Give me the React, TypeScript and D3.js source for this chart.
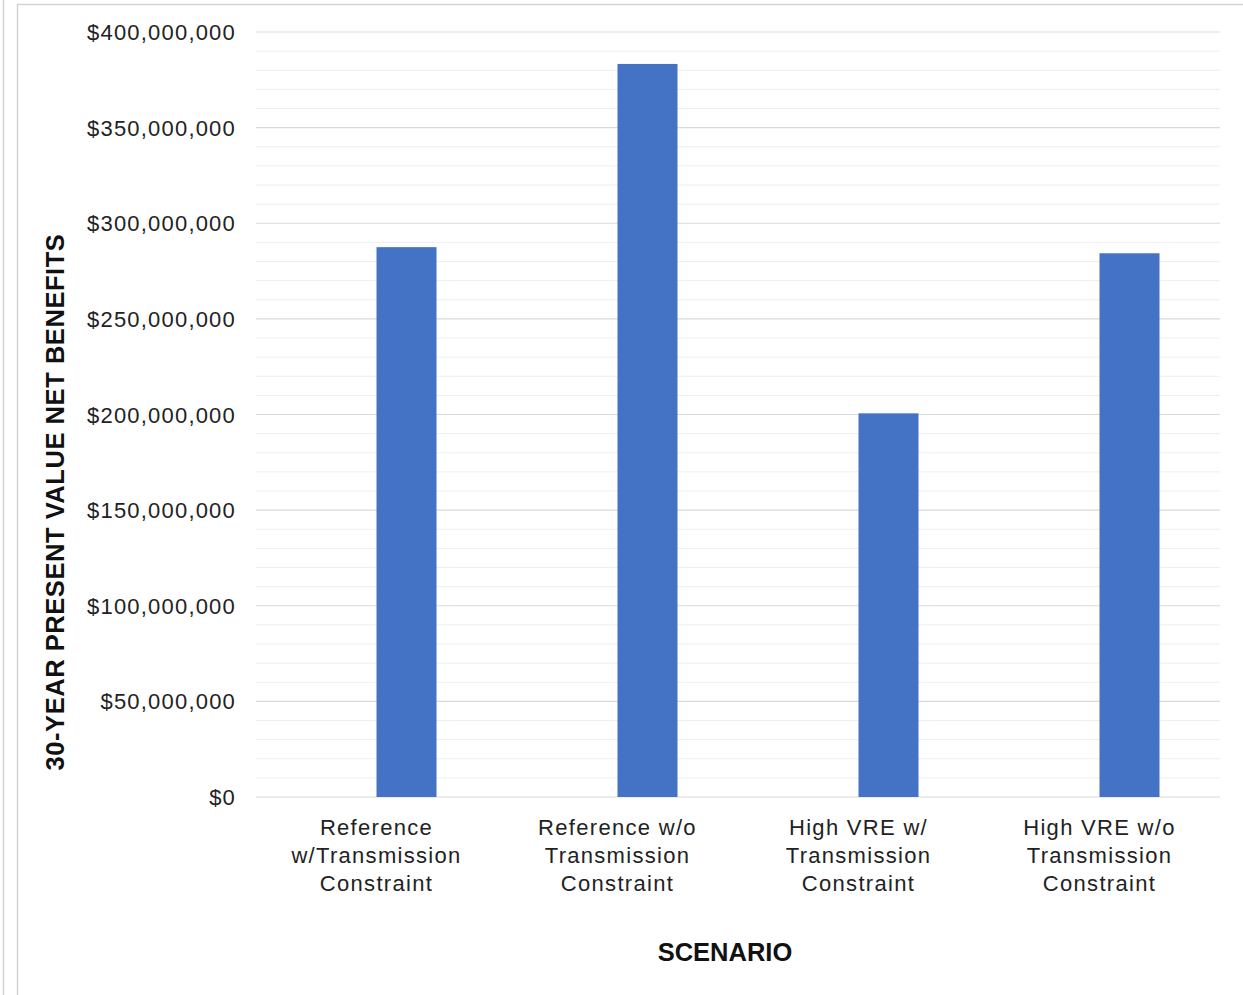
import React from "react";
import * as d3 from "d3";

// Scenario categories and their 30-year present-value net benefits (USD)
const scenarios: string[][] = [
  ["Reference", "w/Transmission", "Constraint"],
  ["Reference w/o", "Transmission", "Constraint"],
  ["High VRE w/", "Transmission", "Constraint"],
  ["High VRE w/o", "Transmission", "Constraint"],
];
const scenarioKeys = ["ref-w", "ref-wo", "vre-w", "vre-wo"];
// Clustered layout: first series slot is empty, second carries the values
const seriesKeys = ["blank", "netBenefits"];
const netBenefits = [287500000, 383300000, 200600000, 284300000];
const yTicks = [0, 50e6, 100e6, 150e6, 200e6, 250e6, 300e6, 350e6, 400e6];

const W = 1243;
const H = 995;
const plot = { left: 256, right: 1220, top: 32, bottom: 797 };
const FONT = "'Liberation Sans', Arial, sans-serif";

export default function App() {
  const y = d3.scaleLinear().domain([0, 400e6]).range([plot.bottom, plot.top]);
  const x0 = d3.scaleBand<string>().domain(scenarioKeys).range([plot.left, plot.right]).padding(0);
  const bw = x0.bandwidth();
  const x1 = d3
    .scaleBand<string>()
    .domain(seriesKeys)
    .range([bw / 2 - 60, bw / 2 + 60])
    .padding(0);
  const fmt = (v: number) => "$" + d3.format(",")(v);
  const minor = y.ticks(40).filter((t) => !yTicks.includes(t));

  return (
    <svg
      width={W}
      height={H}
      style={{ position: "absolute", left: 0, top: 0, background: "#fff" }}
      fontFamily={FONT}
    >
      {/* frame */}
      <line x1={3.5} x2={3.5} y1={0} y2={H} stroke="#d4d4d4" strokeWidth={1.5} />
      <line x1={17.5} x2={17.5} y1={4} y2={H} stroke="#d4d4d4" strokeWidth={1.5} />
      <line x1={17} x2={W} y1={4.5} y2={4.5} stroke="#d4d4d4" strokeWidth={1.5} />

      {/* minor gridlines */}
      {minor.map((t) => (
        <line key={"m" + t} x1={plot.left} x2={plot.right} y1={y(t)} y2={y(t)} stroke="#eeeeee" strokeWidth={1} />
      ))}
      {/* major gridlines */}
      {yTicks.map((t) => (
        <line key={"g" + t} x1={plot.left} x2={plot.right} y1={y(t)} y2={y(t)} stroke="#d9d9d9" strokeWidth={1.2} />
      ))}

      {/* y tick labels */}
      {yTicks.map((t) => (
        <text
          key={"t" + t}
          x={236}
          y={y(t) + 8}
          textAnchor="end"
          fontSize={22}
          letterSpacing={1.2}
          fill="#222"
        >
          {fmt(t)}
        </text>
      ))}

      {/* bars */}
      {netBenefits.map((v, i) => (
        <rect
          key={scenarioKeys[i]}
          x={(x0(scenarioKeys[i]) as number) + (x1("netBenefits") as number)}
          y={y(v)}
          width={x1.bandwidth()}
          height={y(0) - y(v)}
          fill="#4472C4"
        />
      ))}

      {/* category labels */}
      {scenarios.map((lines, i) => (
        <text
          key={"c" + i}
          x={(x0(scenarioKeys[i]) as number) + bw / 2}
          y={834.5}
          textAnchor="middle"
          fontSize={22}
          letterSpacing={1.3}
          fill="#222"
        >
          {lines.map((l, j) => (
            <tspan key={j} x={(x0(scenarioKeys[i]) as number) + bw / 2} dy={j === 0 ? 0 : 28}>
              {l}
            </tspan>
          ))}
        </text>
      ))}

      {/* axis titles */}
      <text x={725} y={961} textAnchor="middle" fontSize={25.5} fontWeight="bold" fill="#111">
        SCENARIO
      </text>
      <text
        transform="translate(64,502) rotate(-90)"
        textAnchor="middle"
        fontSize={25.5}
        fontWeight="bold"
        letterSpacing={0.55}
        fill="#111"
      >
        30-YEAR PRESENT VALUE NET BENEFITS
      </text>
    </svg>
  );
}
